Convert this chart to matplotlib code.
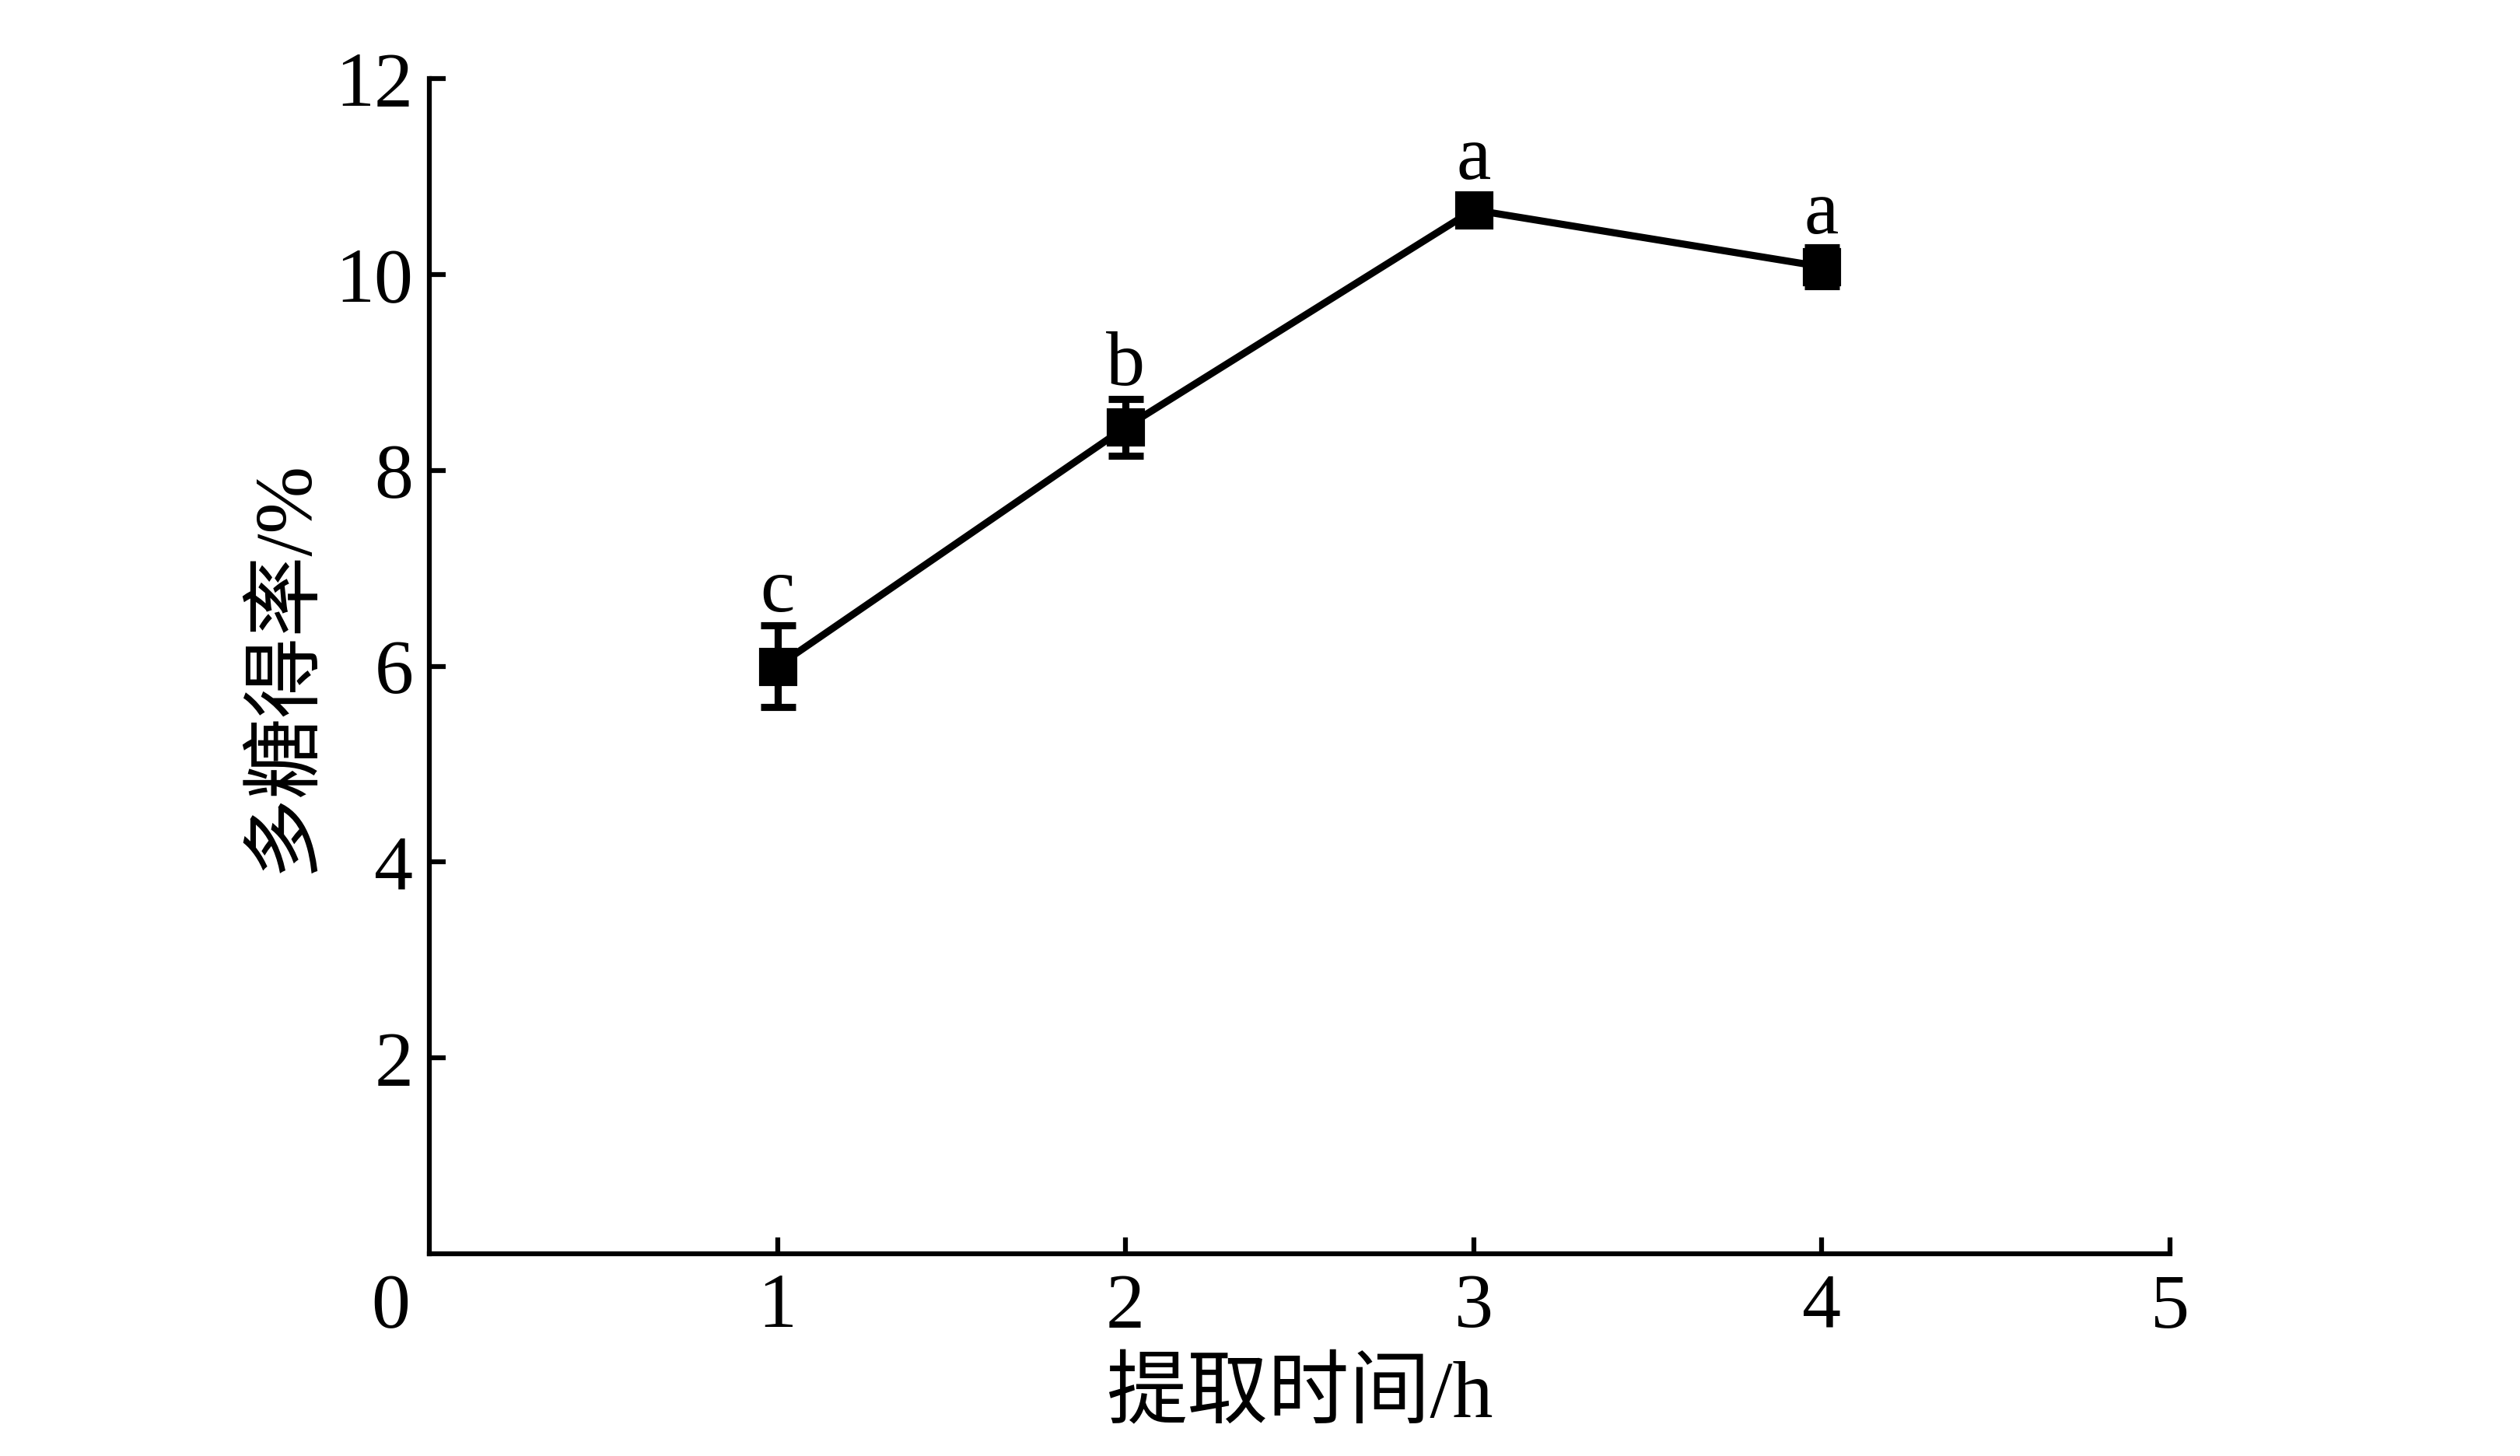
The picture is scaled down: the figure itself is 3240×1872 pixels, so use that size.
import matplotlib
matplotlib.use("Agg")
import matplotlib.pyplot as plt

plt.rcParams['font.family'] = ['Liberation Serif', 'Noto Sans CJK SC', 'DejaVu Sans']
plt.rcParams['mathtext.fontset'] = 'stix'

time_h = [1, 2, 3, 4]
yield_pct = [6.0, 8.44, 10.66, 10.08]
yield_err = [0.42, 0.29, 0.10, 0.20]
sig_letters = ['c', 'b', 'a', 'a']
x_ticks = [1, 2, 3, 4, 5]
y_ticks = [2, 4, 6, 8, 10, 12]
x_label = '提取时间/h'
y_label = '多糖得率/%'

fig = plt.figure(figsize=(10.8, 6.24), dpi=300)
ax = fig.add_axes([0.1704, 0.1389, 0.861 - 0.1704, 0.946 - 0.1389])

ms = 10.8
ax.errorbar(time_h, yield_pct, yerr=yield_err, color='black', lw=2.2,
            marker='s', markersize=ms, elinewidth=2.2, capsize=ms / 2, capthick=2.2)

ax.set_xlim(0, 5)
ax.set_ylim(0, 12)
ax.set_xticks(x_ticks)
ax.set_yticks(y_ticks)
ax.spines['top'].set_visible(False)
ax.spines['right'].set_visible(False)
for s in ['left', 'bottom']:
    ax.spines[s].set_linewidth(1.5)
ax.tick_params(direction='in', length=5, width=1.5, labelsize=24, pad=5)
ax.tick_params(axis='x', pad=6)

# origin label
ax.annotate('0', xy=(0, 0), xycoords='data', xytext=(-12, -6), textcoords='offset points',
            ha='center', va='top', fontsize=24)

ax.set_xlabel(x_label, fontsize=25, labelpad=5)
ax.set_ylabel(y_label, fontsize=25, labelpad=4)

# significance letters
fig.canvas.draw()
bbox = ax.get_window_extent()
pts_per_unit = bbox.height / 12 * 72 / fig.dpi
marker_half = ms / 2
for x, y, e, t in zip(time_h, yield_pct, yield_err, sig_letters):
    top_pt = max(e * pts_per_unit, marker_half)
    ax.annotate(t, xy=(x, y), xytext=(0, top_pt + 4.2), textcoords='offset points',
                ha='center', va='baseline', fontsize=24)

fig.savefig('out.png', dpi=300)
